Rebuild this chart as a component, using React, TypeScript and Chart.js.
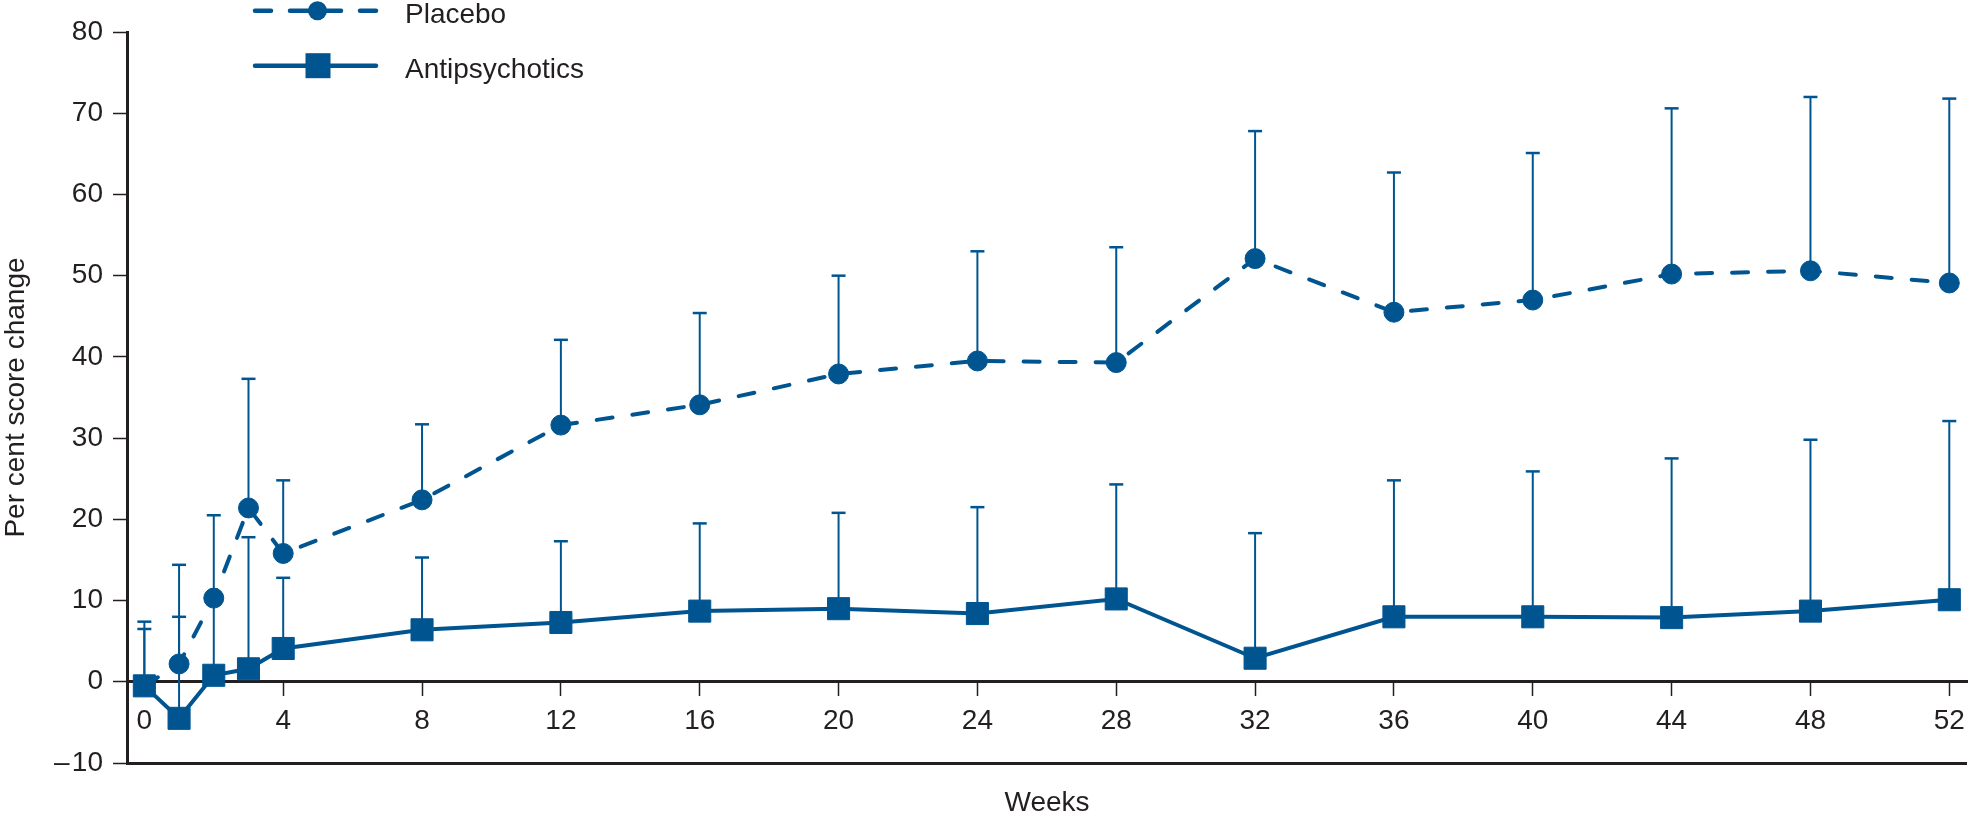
import React, { useEffect, useRef } from 'react';
import { Chart, registerables } from 'chart.js';

Chart.register(...registerables);

// ---- data ----
const weeks = [0, 1, 2, 3, 4, 8, 12, 16, 20, 24, 28, 32, 36, 40, 44, 48, 52];
const placeboMean = [-0.5, 2.2, 10.3, 21.4, 15.8, 22.4, 31.6, 34.1, 37.9, 39.5, 39.3, 52.1, 45.5, 47.0, 50.2, 50.6, 49.1];
const placeboUpper = [7.4, 14.4, 20.5, 37.3, 24.8, 31.7, 42.1, 45.4, 50.0, 53.0, 53.5, 67.8, 62.7, 65.1, 70.6, 72.0, 71.8];
const antipsychoticMean = [-0.5, -4.5, 0.8, 1.6, 4.1, 6.4, 7.3, 8.7, 9.0, 8.4, 10.2, 2.9, 8.0, 8.0, 7.9, 8.7, 10.1];
const antipsychoticUpper = [6.5, 8.0, 10.0, 17.8, 12.8, 15.3, 17.3, 19.5, 20.8, 21.5, 24.3, 18.3, 24.8, 25.9, 27.5, 29.8, 32.1];
const xTickValues = [0, 4, 8, 12, 16, 20, 24, 28, 32, 36, 40, 44, 48, 52];
const yMin = -10;
const yMax = 80;
const yStep = 10;
const seriesLabels = ['Placebo', 'Antipsychotics'];
const xTitle = 'Weeks';
const yTitle = 'Per cent score change';

// ---- style ----
const BLUE = '#005591';
const INK = '#231f20';
const FONT = "'Liberation Sans', Arial, sans-serif";
const W = 1968;
const H = 816;

const uppers = [placeboUpper, antipsychoticUpper];

const errorBarPlugin = {
  id: 'errorBars',
  beforeDatasetsDraw(chart: any) {
    const ctx = chart.ctx;
    const yScale = chart.scales.y;
    chart.data.datasets.forEach((_ds: any, i: number) => {
      const meta = chart.getDatasetMeta(i);
      const up = uppers[i];
      ctx.save();
      ctx.strokeStyle = BLUE;
      ctx.lineWidth = 2;
      meta.data.forEach((pt: any, j: number) => {
        const x = pt.x;
        const y0 = pt.y;
        const y1 = yScale.getPixelForValue(up[j]);
        ctx.beginPath();
        ctx.moveTo(x, y0);
        ctx.lineTo(x, y1);
        ctx.stroke();
        ctx.lineWidth = 2.5;
        ctx.beginPath();
        ctx.moveTo(x - 7, y1);
        ctx.lineTo(x + 7, y1);
        ctx.stroke();
        ctx.lineWidth = 2;
      });
      ctx.restore();
    });
  },
};

const legendPlugin = {
  id: 'customLegend',
  afterDraw(chart: any) {
    const ctx = chart.ctx;
    ctx.save();
    ctx.strokeStyle = BLUE;
    ctx.fillStyle = BLUE;
    ctx.lineWidth = 4.5;
    ctx.lineCap = 'round';
    // Placebo: dashed line + circle
    const y1 = 10.7;
    const segs = [[255, 271], [290, 341], [360, 376]];
    segs.forEach(([a, b]) => {
      ctx.beginPath();
      ctx.moveTo(a, y1);
      ctx.lineTo(b, y1);
      ctx.stroke();
    });
    ctx.beginPath();
    ctx.arc(317.5, y1, 9.5, 0, Math.PI * 2);
    ctx.fill();
    // Antipsychotics: solid line + square
    const y2 = 65.7;
    ctx.beginPath();
    ctx.moveTo(255, y2);
    ctx.lineTo(376, y2);
    ctx.stroke();
    ctx.fillRect(318 - 12.5, y2 - 12.5, 25, 25);
    // labels
    ctx.fillStyle = INK;
    ctx.font = `28px ${FONT}`;
    ctx.textAlign = 'left';
    ctx.textBaseline = 'alphabetic';
    ctx.fillText(seriesLabels[0], 405, 23.3);
    ctx.fillText(seriesLabels[1], 405, 78.3);
    ctx.restore();
  },
};

export default function App() {
  const ref = useRef<HTMLCanvasElement | null>(null);

  useEffect(() => {
    if (!ref.current) return;
    const chart = new Chart(ref.current, {
      type: 'line',
      data: {
        datasets: [
          {
            label: seriesLabels[0],
            data: weeks.map((w, i) => ({ x: w, y: placeboMean[i] })),
            borderColor: BLUE,
            backgroundColor: BLUE,
            borderWidth: 4,
            borderDash: [16, 20],
            borderCapStyle: 'round',
            pointStyle: 'circle',
            pointRadius: 10,
            pointBorderWidth: 1,
            pointBackgroundColor: BLUE,
            pointBorderColor: BLUE,
            tension: 0,
            order: 1,
            clip: false,
          } as any,
          {
            label: seriesLabels[1],
            data: weeks.map((w, i) => ({ x: w, y: antipsychoticMean[i] })),
            borderColor: BLUE,
            backgroundColor: BLUE,
            borderWidth: 4,
            pointStyle: 'rect',
            pointRadius: 15.6,
            pointBorderWidth: 1,
            pointBackgroundColor: BLUE,
            pointBorderColor: BLUE,
            tension: 0,
            order: 0,
            clip: false,
          } as any,
        ],
      },
      options: {
        responsive: false,
        animation: false,
        events: [],
        layout: { autoPadding: false, padding: { top: 32, left: 0, right: 1, bottom: 0 } },
        plugins: {
          legend: { display: false },
          tooltip: { enabled: false },
        },
        scales: {
          x: {
            type: 'linear',
            position: { y: 0 } as any,
            min: -0.5,
            max: 52.51,
            afterBuildTicks: (s: any) => {
              s.ticks = xTickValues.map((v) => ({ value: v }));
            },
            afterFit: (s: any) => {
              s.paddingLeft = 0;
              s.paddingRight = 0;
            },
            grid: {
              display: true,
              drawOnChartArea: false,
              drawTicks: true,
              tickLength: 13,
              tickColor: INK,
              tickWidth: 1.5,
            },
            border: { display: true, color: INK, width: 3 },
            ticks: {
              font: { family: FONT, size: 28, lineHeight: 1.2 },
              color: INK,
              padding: 10,
              maxRotation: 0,
              autoSkip: false,
            },
          },
          x2: {
            type: 'linear',
            position: 'bottom',
            display: true,
            ticks: { display: false },
            grid: { display: false, drawTicks: false },
            border: { display: false },
            title: {
              display: true,
              text: xTitle,
              font: { family: FONT, size: 28, lineHeight: 0.9 },
              color: INK,
              padding: 0,
            },
            afterFit: (s: any) => {
              s.height = 53;
              s.paddingLeft = 0;
              s.paddingRight = 0;
            },
          },
          y: {
            type: 'linear',
            min: yMin,
            max: yMax,
            ticks: {
              stepSize: yStep,
              font: { family: FONT, size: 28 },
              color: INK,
              padding: 10,
              callback: (v: any) => (Number(v) < 0 ? '\u2013\u200a' + Math.abs(Number(v)) : String(v)),
            },
            afterFit: (s: any) => {
              s.width = 127;
              s.paddingTop = 0;
              s.paddingBottom = 0;
            },
            grid: {
              display: true,
              drawOnChartArea: true,
              drawTicks: true,
              color: (c: any) => (c.tick && c.tick.value === yMin ? INK : 'rgba(0,0,0,0)'),
              lineWidth: (c: any) => (c.tick && c.tick.value === yMin ? 3 : 1),
              tickColor: INK,
              tickWidth: 1.5,
              tickLength: 14,
            },
            border: { display: true, color: INK, width: 3 },
            title: {
              display: true,
              text: yTitle,
              font: { family: FONT, size: 28, lineHeight: 1.15 },
              color: INK,
              padding: { top: 0, bottom: 0 },
            },
          },
        },
      } as any,
      plugins: [errorBarPlugin, legendPlugin],
    });
    return () => chart.destroy();
  }, []);

  return (
    <div style={{ position: 'absolute', left: 0, top: 0, width: W, height: H, background: '#fff' }}>
      <canvas ref={ref} width={W} height={H} style={{ display: 'block' }} />
    </div>
  );
}
